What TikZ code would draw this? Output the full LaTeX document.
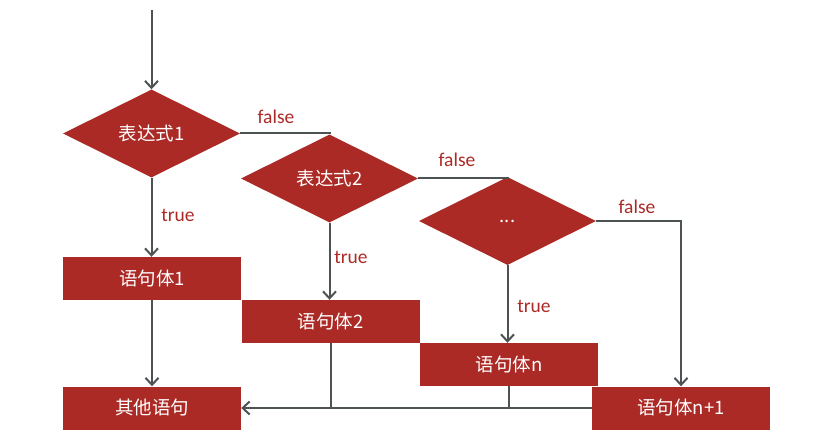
\documentclass[tikz,border=0pt]{standalone}
\usepackage{fontspec}
\setmainfont{Carlito}
\newfontfamily\cjk{Noto Sans CJK SC}
\usetikzlibrary{shapes.geometric,arrows.meta}
\definecolor{boxred}{HTML}{AB2A26}
\definecolor{linegray}{HTML}{4D5353}
\begin{document}
\begin{tikzpicture}[x=1pt,y=-1pt,
  dia/.style={diamond, fill=boxred, draw=none, minimum width=177pt, minimum height=88pt, inner sep=0pt, text=white, font=\cjk\fontsize{18.5}{21}\selectfont},
  stepbox/.style={rectangle, fill=boxred, draw=none, minimum width=178pt, minimum height=43pt, inner sep=0pt, text=white, font=\cjk\fontsize{18.5}{21}\selectfont},
  conn/.style={draw=linegray, line width=2pt},
  arr/.style={conn, -{Straight Barb[length=7pt,width=13pt,line width=2pt]}},
  lbl/.style={text=boxred, font=\fontsize{19.5}{22}\selectfont, inner sep=0pt}]
\useasboundingbox (0,0) rectangle (827,446);
\node[dia] (d1) at (151.5,133.5) {表达式1};
\node[dia] (d2) at (329.5,178.5) {表达式2};
\node[dia] (d3) at (507.5,221) {...};
\node[stepbox] (b1) at (152,278.5) {语句体1};
\node[stepbox] (b2) at (330.5,321.5) {语句体2};
\node[stepbox] (bn) at (509,364.5) {语句体n};
\node[stepbox] (other) at (152,408) {其他语句};
\node[stepbox] (bn1) at (681,408) {语句体n+1};
\coordinate (start) at (151.5,10);
\draw[arr] (start) -- (d1.north);
\draw[arr] (d1.south) -- (d1.south |- b1.north);
\draw[arr] (d2.south) -- (d2.south |- b2.north);
\draw[arr] (d3.south) -- (d3.south |- bn.north);
\draw[conn] (d1.east) -| (d2.north);
\draw[conn] (d2.east) -| (d3.north);
\draw[arr] (d3.east) -| (bn1.north);
\draw[arr] (b1.south) -- (other.north);
\draw[arr] (bn1.west) -- (other.east);
\draw[conn] (b2.south) -- (b2.south |- other.east);
\draw[conn] (bn.south) -- (bn.south |- other.east);
\node[lbl] (f1) at (276,117) {false};
\node[lbl] (f2) at (457,160) {false};
\node[lbl] (f3) at (637,207) {false};
\node[lbl] (t1) at (178,215) {true};
\node[lbl] (t2) at (351,257) {true};
\node[lbl] (t3) at (534,306) {true};
\end{tikzpicture}
\end{document}
